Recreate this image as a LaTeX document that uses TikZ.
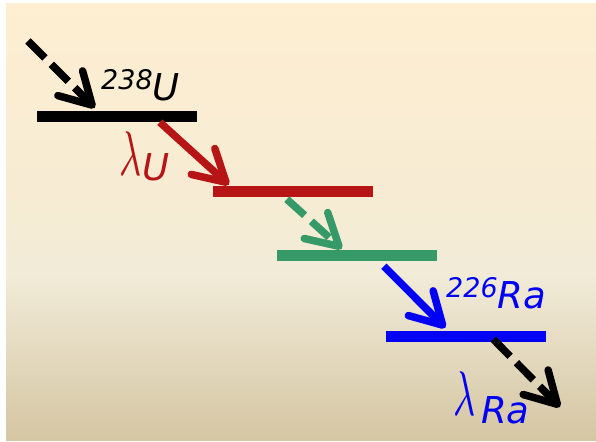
\documentclass[tikz,border=0pt]{standalone}
\usepackage{fontspec}
\setmainfont{DejaVu Sans}
\usetikzlibrary{arrows.meta,calc}
\definecolor{bgtop}{RGB}{254,238,210}
\definecolor{bgmid}{RGB}{246,236,211}
\definecolor{bgmidb}{RGB}{241,235,216}
\definecolor{bgbot}{RGB}{213,198,163}
\definecolor{cred}{RGB}{183,20,22}
\definecolor{cgreen}{RGB}{53,154,104}
\definecolor{cblue}{RGB}{0,0,245}
\pgfdeclareverticalshading{bgshade}{100bp}{color(0bp)=(bgbot); color(25bp)=(bgbot); color(44bp)=(bgmidb); color(52bp)=(bgmid); color(75bp)=(bgtop); color(100bp)=(bgtop)}
\tikzset{
  level/.style={rectangle, inner sep=0pt, minimum width=160pt, minimum height=11pt},
  decay/.style={line width=7.5pt, line cap=butt, -{Straight Barb[length=31pt,width=35pt,round]}},
  dashdecay/.style={decay, dash pattern=on 24pt off 9pt},
  lbl/.style={anchor=base west, inner sep=0pt, font=\itshape},
}
\newcommand{\mybig}[1]{\fontsize{37}{37}\selectfont #1}
\newcommand{\mysup}[1]{\raisebox{11pt}{\fontsize{27}{27}\selectfont #1}}
\newcommand{\mylam}{\scalebox{3.8}[6.3]{\fontsize{10}{10}\selectfont $\lambda$}}
\begin{document}
\begin{tikzpicture}[x=1pt,y=-1pt]
\useasboundingbox (0,0) rectangle (596,441);
\shade[shading=bgshade] (6,4) rectangle (596,440);
% levels
\node[level, fill=black]  (u)  at (117,116.5) {};
\node[level, fill=cred]   (th) at (293,191.5) {};
\node[level, fill=cgreen] (gr) at (357,255.5) {};
\node[level, fill=cblue]  (ra) at (465.5,336.5) {};
% free ends
\coordinate (in) at (28,41);
\coordinate (out) at (560,407);
% arrows
\draw[dashdecay, black] (in) -- ([xshift=58pt,yshift=3pt]u.north west);
\draw[decay, cred] ([xshift=123pt]u.south west) -- ([xshift=16pt,yshift=1pt]th.north west);
\draw[dashdecay, cgreen] ([xshift=74pt,yshift=-2pt]th.south west) -- ([xshift=65pt,yshift=1pt]gr.north west);
\draw[decay, cblue] ([xshift=107pt,yshift=-5pt]gr.south west) -- ([xshift=60pt,yshift=3pt]ra.north west);
\draw[dashdecay, black] ([xshift=108pt,yshift=3pt]ra.south west) -- (out);
% labels
\node[lbl] (lu) at (101,100) {\mysup{238}\mybig{U}};
\node[lbl, text=cred] (lamu) at (119,175) {\mylam};
\node[lbl, text=cred] (subu) at (142,180) {\mybig{U}};
\node[lbl, text=cblue] (lra) at (446,308) {\mysup{226}\mybig{Ra}};
\node[lbl, text=cblue] (lamra) at (453,415) {\mylam};
\node[lbl, text=cblue] (subra) at (481,423) {\mybig{Ra}};
\end{tikzpicture}
\end{document}
